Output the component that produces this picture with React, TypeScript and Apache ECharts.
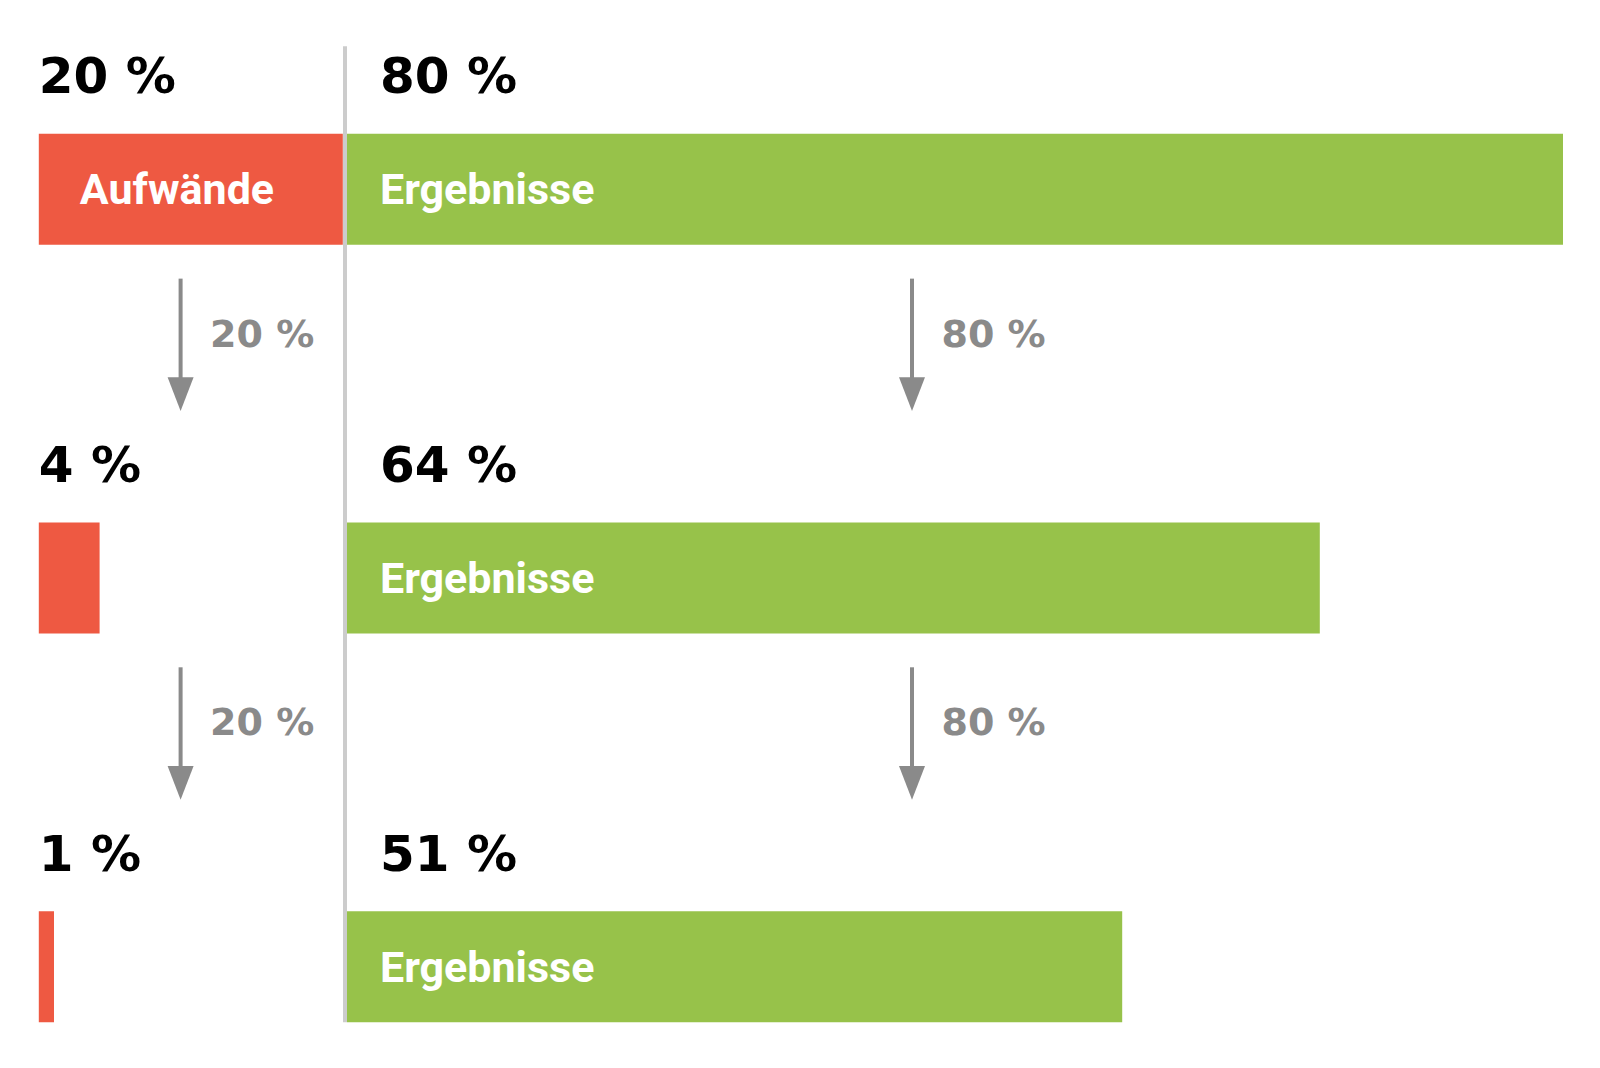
import React, { useEffect, useRef } from "react";
import * as echarts from "echarts";

// ---- data ----
const rows = ["Stufe 1", "Stufe 2", "Stufe 3"];
const aufwaende = [20, 4, 1];
const ergebnisse = [80, 64, 51];
const aufwandLabels = ["Aufwände", "", ""];
const ergebnisLabels = ["Ergebnisse", "Ergebnisse", "Ergebnisse"];
const stepAufwand = [20, 20];
const stepErgebnis = [80, 80];
const axisMaxA = 20;
const axisMaxB = 80;

const RED = "#EE5942";
const GREEN = "#97C24A";
const GRAY = "#8a8a8a";
const BIG_FONT = "DejaVu Sans";
const BAR_FONT = "Roboto";

export default function App() {
  const ref = useRef<HTMLDivElement>(null);
  useEffect(() => {
    document.body.style.margin = "0";
    const chart = echarts.init(ref.current!, null, { renderer: "svg" });
    const bigLabel = (dist: number) => ({
      show: true,
      position: "right",
      distance: dist,
      offset: [0, -113],
      fontFamily: BIG_FONT,
      fontWeight: "bold",
      fontSize: 50,
      color: "#000",
      formatter: (p: any) => p.data[2] + " %",
    });
    const option: any = {
      animation: false,
      backgroundColor: "#fff",
      grid: [
        { left: 38.8, width: 304, top: -5, height: 1166, outerBoundsMode: "none", containLabel: false },
        { left: 347, width: 1216, top: -5, height: 1166, outerBoundsMode: "none", containLabel: false },
      ],
      xAxis: [
        { type: "value", gridIndex: 0, min: 0, max: axisMaxA, show: false },
        { type: "value", gridIndex: 1, min: 0, max: axisMaxB, show: false },
      ],
      yAxis: [
        { type: "category", gridIndex: 0, data: rows, inverse: true, show: false },
        { type: "category", gridIndex: 1, data: rows, inverse: true, show: false },
      ],
      series: [
        {
          type: "bar",
          xAxisIndex: 0,
          yAxisIndex: 0,
          barWidth: 111,
          itemStyle: { color: RED },
          data: aufwaende.map((v, i) => ({ value: v, name: aufwandLabels[i] })),
          label: {
            show: true,
            position: "insideLeft",
            distance: 41,
            fontFamily: BAR_FONT,
            fontWeight: "bold",
            fontSize: 43,
            color: "#fff",
            formatter: (p: any) => p.name,
          },
          silent: true,
        },
        {
          type: "bar",
          xAxisIndex: 1,
          yAxisIndex: 1,
          barWidth: 111,
          itemStyle: { color: GREEN },
          data: ergebnisse.map((v, i) => ({ value: v, name: ergebnisLabels[i] })),
          label: {
            show: true,
            position: "insideLeft",
            distance: 33,
            fontFamily: BAR_FONT,
            fontWeight: "bold",
            fontSize: 43,
            color: "#fff",
            formatter: (p: any) => p.name,
          },
          silent: true,
        },
        {
          type: "scatter",
          xAxisIndex: 0,
          yAxisIndex: 0,
          symbolSize: 0,
          silent: true,
          itemStyle: { opacity: 1, color: "#000" },
          data: aufwaende.map((v, i) => [0, i, v]),
          label: bigLabel(0),
        },
        {
          type: "scatter",
          xAxisIndex: 1,
          yAxisIndex: 1,
          symbolSize: 0,
          silent: true,
          itemStyle: { opacity: 1, color: "#000" },
          data: ergebnisse.map((v, i) => [0, i, v]),
          label: bigLabel(33),
        },
      ],
    };
    chart.setOption(option);

    // annotations: arrows, step labels, divider
    const graphics: any[] = [];
    const centers = rows.map((_, i) => chart.convertToPixel({ gridIndex: 0 }, [0, i])[1]);
    const gridBLeft = chart.convertToPixel({ gridIndex: 1 }, [0, 0])[0];
    graphics.push({
      type: "line",
      shape: { x1: gridBLeft - 2, y1: centers[0] - 143, x2: gridBLeft - 2, y2: centers[2] + 55.5 },
      style: { stroke: "#cccccc", lineWidth: 4 },
      z: 10,
    });
    const arrowXs = [180.6, 912];
    const steps = [stepAufwand, stepErgebnis];
    for (let k = 0; k < 2; k++) {
      const c = centers[k];
      arrowXs.forEach((ax, side) => {
        graphics.push({
          type: "line",
          shape: { x1: ax, y1: c + 89.3, x2: ax, y2: c + 190 },
          style: { stroke: GRAY, lineWidth: 4 },
        });
        graphics.push({
          type: "polygon",
          shape: {
            points: [
              [ax - 13, c + 188],
              [ax + 13, c + 188],
              [ax, c + 221.7],
            ],
          },
          style: { fill: GRAY },
        });
        graphics.push({
          type: "text",
          x: ax + 29.5,
          y: c + 144.4,
          style: {
            text: steps[side][k] + " %",
            fontFamily: BIG_FONT,
            fontWeight: "bold",
            fontSize: 38,
            fill: GRAY,
            verticalAlign: "middle",
            align: "left",
          },
        });
      });
    }
    chart.setOption({ graphic: graphics });
    return () => chart.dispose();
  }, []);
  return <div ref={ref} style={{ width: 1600, height: 1068 }} />;
}
